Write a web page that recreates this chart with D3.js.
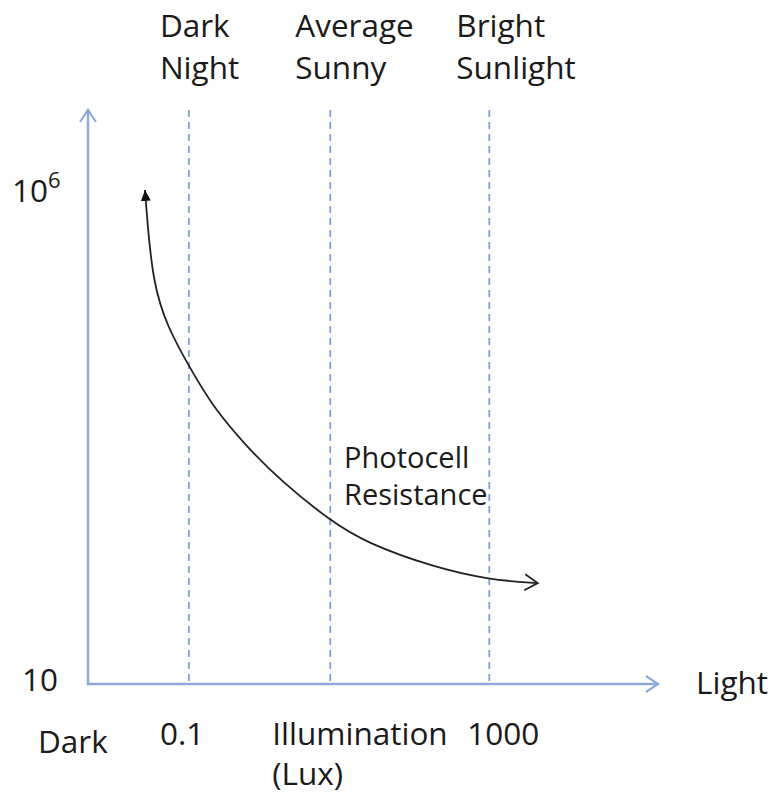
<!DOCTYPE html>
<html>
<head>
<meta charset="utf-8">
<script src="https://cdn.jsdelivr.net/npm/d3@7"></script>
<style>
  body { margin: 0; background: #fff; }
  svg text { font-family: "Open Sans", sans-serif; fill: #1a1a1a; }
</style>
</head>
<body>
<svg id="chart" width="771" height="793"></svg>
<script>
// light zones marked with dashed lines (relative light level, 0-100)
const zoneNames = [["Dark", "Night"], ["Average", "Sunny"], ["Bright", "Sunlight"]];
const zoneLevels = [17.7, 42.5, 70.4];

// labels under the x axis
const xTickLabels = [["0.1"], ["Illumination", "(Lux)"], ["1000"]];
const xTickLevels = [17.7, 42.5, 70.4];

// y axis extremes (ohms)
const yTickValues = [10, 1e6];

// photocell resistance curve
const curveLight = [10, 10.35, 11.4, 13.9, 17.9, 21.9, 27.9, 33.7, 42.5, 48.9, 60.5, 70.5, 78.9];
const curveResistance = [1e6, 5.3e5, 1.15e5, 4.1e4, 1.58e4, 6.4e3, 2.5e3, 1.16e3, 447, 267, 153, 113, 105];

translate = function(a, b) {
  return "translate(" + a + ", " + b + ")";
}

const svg = d3.select("#chart");
const axisColor = "#8eaadb";
const dashColor = "#7f9fdb";

const left = 88, right = 658, bottom = 684, axisTop = 110;

let x = d3.scaleLinear().domain([0, 100]).range([left, right]);
let y = d3.scaleLog().domain([10, 1e6]).range([bottom, 190]);

// arrow heads
let defs = svg.append("defs");

defs.append("marker")
  .attr("id", "axisArrow")
  .attr("viewBox", "0 0 20 20")
  .attr("refX", 14).attr("refY", 10)
  .attr("markerWidth", 20).attr("markerHeight", 20)
  .attr("markerUnits", "userSpaceOnUse")
  .attr("orient", "auto")
  .append("path")
  .attr("d", "M2,2 L14,10 L2,18")
  .attr("fill", "none")
  .attr("stroke", axisColor)
  .attr("stroke-width", 2.2);

defs.append("marker")
  .attr("id", "curveStart")
  .attr("viewBox", "0 0 12 12")
  .attr("refX", 11).attr("refY", 6)
  .attr("markerWidth", 12).attr("markerHeight", 12)
  .attr("markerUnits", "userSpaceOnUse")
  .attr("orient", "auto-start-reverse")
  .append("path")
  .attr("d", "M0,1 L11,6 L0,11 Z")
  .attr("fill", "#111");

defs.append("marker")
  .attr("id", "curveEnd")
  .attr("viewBox", "0 0 20 20")
  .attr("refX", 14).attr("refY", 10)
  .attr("markerWidth", 20).attr("markerHeight", 20)
  .attr("markerUnits", "userSpaceOnUse")
  .attr("orient", "auto")
  .append("path")
  .attr("d", "M1,2 L14,10 L1,18")
  .attr("fill", "none")
  .attr("stroke", "#222")
  .attr("stroke-width", 1.8);

// dashed zone lines
svg.append("g")
  .selectAll("line")
  .data(zoneLevels)
  .enter()
  .append("line")
  .attr("x1", d => x(d)).attr("x2", d => x(d))
  .attr("y1", axisTop).attr("y2", bottom)
  .attr("stroke", dashColor)
  .attr("stroke-width", 1.8)
  .attr("stroke-dasharray", "7,5");

// axes
svg.append("line")
  .attr("x1", left).attr("y1", bottom + 1)
  .attr("x2", left).attr("y2", axisTop)
  .attr("stroke", axisColor)
  .attr("stroke-width", 2.5)
  .attr("marker-end", "url(#axisArrow)");

svg.append("line")
  .attr("x1", left - 1).attr("y1", bottom)
  .attr("x2", right).attr("y2", bottom)
  .attr("stroke", axisColor)
  .attr("stroke-width", 2.5)
  .attr("marker-end", "url(#axisArrow)");

// curve
let points = curveLight.map((d, i) => [x(d), y(curveResistance[i])]);
let line = d3.line().curve(d3.curveBasis);

svg.append("path")
  .attr("d", line(points))
  .attr("fill", "none")
  .attr("stroke", "#222")
  .attr("stroke-width", 1.8)
  .attr("marker-start", "url(#curveStart)")
  .attr("marker-end", "url(#curveEnd)");

// zone names on top
let zones = svg.append("g")
  .selectAll("text")
  .data(zoneNames)
  .enter()
  .append("text")
  .attr("font-size", 31.5)
  .attr("transform", (d, i) => translate(x(zoneLevels[i]) + [-29, -35, -33][i], 37));

zones.selectAll("tspan")
  .data(d => d)
  .enter()
  .append("tspan")
  .attr("x", 0)
  .attr("dy", (d, i) => i == 0 ? 0 : 42)
  .text(d => d);

// y axis labels
let y6 = svg.append("text")
  .attr("font-size", 31.5)
  .attr("x", 12)
  .attr("y", y(yTickValues[1]) + 12);
y6.append("tspan").text("10");
y6.append("tspan").attr("font-size", 22).attr("dy", -14).text("6");

svg.append("text")
  .attr("font-size", 31.5)
  .attr("x", 22)
  .attr("y", y(yTickValues[0]) + 7)
  .text("10");

svg.append("text")
  .attr("font-size", 31.5)
  .attr("x", 696)
  .attr("y", bottom + 10)
  .text("Light");

svg.append("text")
  .attr("font-size", 31.5)
  .attr("x", 38)
  .attr("y", 753)
  .text("Dark");

// labels under the x axis
let xLabels = svg.append("g")
  .selectAll("text")
  .data(xTickLabels)
  .enter()
  .append("text")
  .attr("font-size", 31.5)
  .attr("transform", (d, i) => translate(x(xTickLevels[i]) + [-29, -58, -22][i], 745));

xLabels.selectAll("tspan")
  .data(d => d)
  .enter()
  .append("tspan")
  .attr("x", 0)
  .attr("dy", (d, i) => i == 0 ? 0 : 40)
  .text(d => d);

// curve label
svg.append("text")
  .attr("font-size", 29)
  .attr("transform", translate(344, 468))
  .selectAll("tspan")
  .data(["Photocell", "Resistance"])
  .enter()
  .append("tspan")
  .attr("x", 0)
  .attr("dy", (d, i) => i == 0 ? 0 : 37)
  .text(d => d);
</script>
</body>
</html>
